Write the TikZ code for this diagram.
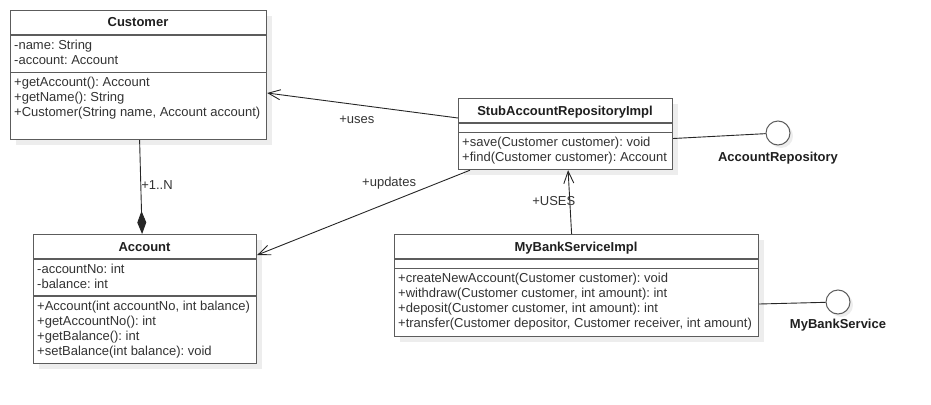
\documentclass[tikz,border=0pt]{standalone}
\usepackage{fontspec}
\setmainfont{Liberation Sans}
\usetikzlibrary{arrows.meta,shadows}
\frenchspacing

\definecolor{boxgray}{HTML}{5C5C5C}
\definecolor{txtgray}{HTML}{333333}
\definecolor{shadegray}{HTML}{EDEDED}

\tikzset{
  classbox/.style={draw=boxgray, line width=1.2pt, fill=white, anchor=north west, inner sep=0pt,
    drop shadow={shadow xshift=5pt, shadow yshift=-5pt, fill=shadegray, opacity=1}},
  classline/.style={draw=boxgray, line width=1.2pt},
  classname/.style={font=\fontsize{13}{15}\selectfont\bfseries, text=black!88, anchor=base, inner sep=0pt},
  member/.style={font=\fontsize{13}{15}\selectfont, text=txtgray, anchor=base west, inner sep=0pt},
  lbl/.style={font=\fontsize{13}{15}\selectfont, text=txtgray, inner sep=0pt},
  link/.style={draw=black!85, line width=0.9pt},
  uses/.style={link, -{Straight Barb[length=12pt, width=10pt]}},
  owns/.style={link, -{Diamond[length=23pt, width=9pt]}},
  iface/.style={circle, draw=boxgray, line width=1pt, fill=white, minimum size=24pt, inner sep=0pt,
    drop shadow={shadow xshift=3pt, shadow yshift=-3pt, fill=shadegray, opacity=1}},
  ifacename/.style={font=\fontsize{13}{15}\selectfont\bfseries, text=black!88, inner sep=0pt}
}

\begin{document}
\begin{tikzpicture}[x=1pt, y=-1pt]
      \useasboundingbox (0,0) rectangle (931,404);

      \node[classbox, minimum width=256pt, minimum height=129pt] (cust) at (10,10) {};
      \draw[classline] (cust.west |- 0,35) -- (cust.east |- 0,35);
      \draw[classline] (cust.west |- 0,72.5) -- (cust.east |- 0,72.5);
      \node[classname] (custname) at (138,27) {Customer};
      \foreach \t [count=\i] in {-name: String, -account: Account}
        \node[member] (custattr\i) at (14, 34+15*\i) {\t};
      \foreach \t [count=\i] in {+getAccount(): Account, +getName(): String,
          {+Customer(String name, Account account)}}
        \node[member] (custop\i) at (14, 71.5+15*\i) {\t};

      \node[classbox, minimum width=223pt, minimum height=129pt] (acct) at (33,234) {};
      \draw[classline] (acct.west |- 0,259) -- (acct.east |- 0,259);
      \draw[classline] (acct.west |- 0,296) -- (acct.east |- 0,296);
      \node[classname] (acctname) at (144.5,251) {Account};
      \foreach \t [count=\i] in {-accountNo: int, -balance: int}
        \node[member] (acctattr\i) at (37, 258+15*\i) {\t};
      \foreach \t [count=\i] in {{+Account(int accountNo, int balance)}, +getAccountNo(): int,
          +getBalance(): int, +setBalance(int balance): void}
        \node[member] (acctop\i) at (37, 295+15*\i) {\t};

      \node[classbox, minimum width=214pt, minimum height=71pt] (stub) at (458,98) {};
      \draw[classline] (stub.west |- 0,123) -- (stub.east |- 0,123);
      \draw[classline] (stub.west |- 0,132.5) -- (stub.east |- 0,132.5);
      \node[classname] (stubname) at (565,115) {StubAccountRepositoryImpl};
      \foreach \t [count=\i] in {+save(Customer customer): void, +find(Customer customer): Account}
        \node[member] (stubop\i) at (462, 131.5+15*\i) {\t};

      \node[classbox, minimum width=364pt, minimum height=102pt] (bank) at (394,234) {};
      \draw[classline] (bank.west |- 0,259) -- (bank.east |- 0,259);
      \draw[classline] (bank.west |- 0,268.5) -- (bank.east |- 0,268.5);
      \node[classname] (bankname) at (576,251) {MyBankServiceImpl};
      \foreach \t [count=\i] in {+createNewAccount(Customer customer): void,
          {+withdraw(Customer customer, int amount): int},
          {+deposit(Customer customer, int amount): int},
          {+transfer(Customer depositor, Customer receiver, int amount)}}
        \node[member] (bankop\i) at (398, 267.5+15*\i) {\t};

      \node[iface] (repo) at (778,133) {};
      \node[ifacename] (reponame) at (778,158) {AccountRepository};
      \node[iface] (svc) at (838,302) {};
      \node[ifacename] (svcname) at (838,325) {MyBankService};

      \draw[owns] ([xshift=1pt]cust.south) -- ([xshift=-3pt]acct.north)
        node[lbl, pos=0.48, anchor=west] (mult) {+1..N};
      \draw[uses] ([yshift=-20pt]stub.north west) -- ([yshift=-83pt]cust.north east)
        node[lbl, pos=0.53, yshift=-15pt] (useslbl) {+uses};
      \draw[uses] ([xshift=12pt]stub.south west) -- ([yshift=-21pt]acct.north east)
        node[lbl, pos=0.38, yshift=19pt] (updlbl) {+updates};
      \draw[uses] ([xshift=-5pt]bank.north) -- ([xshift=2.5pt]stub.south)
        node[lbl, pos=0.52, xshift=-16pt] (banklbl) {+USES};
      \draw[link] ([yshift=-40.5pt]stub.north east) -- (repo);
      \draw[link] ([yshift=-70pt]bank.north east) -- (svc);
    \end{tikzpicture}
\end{document}
